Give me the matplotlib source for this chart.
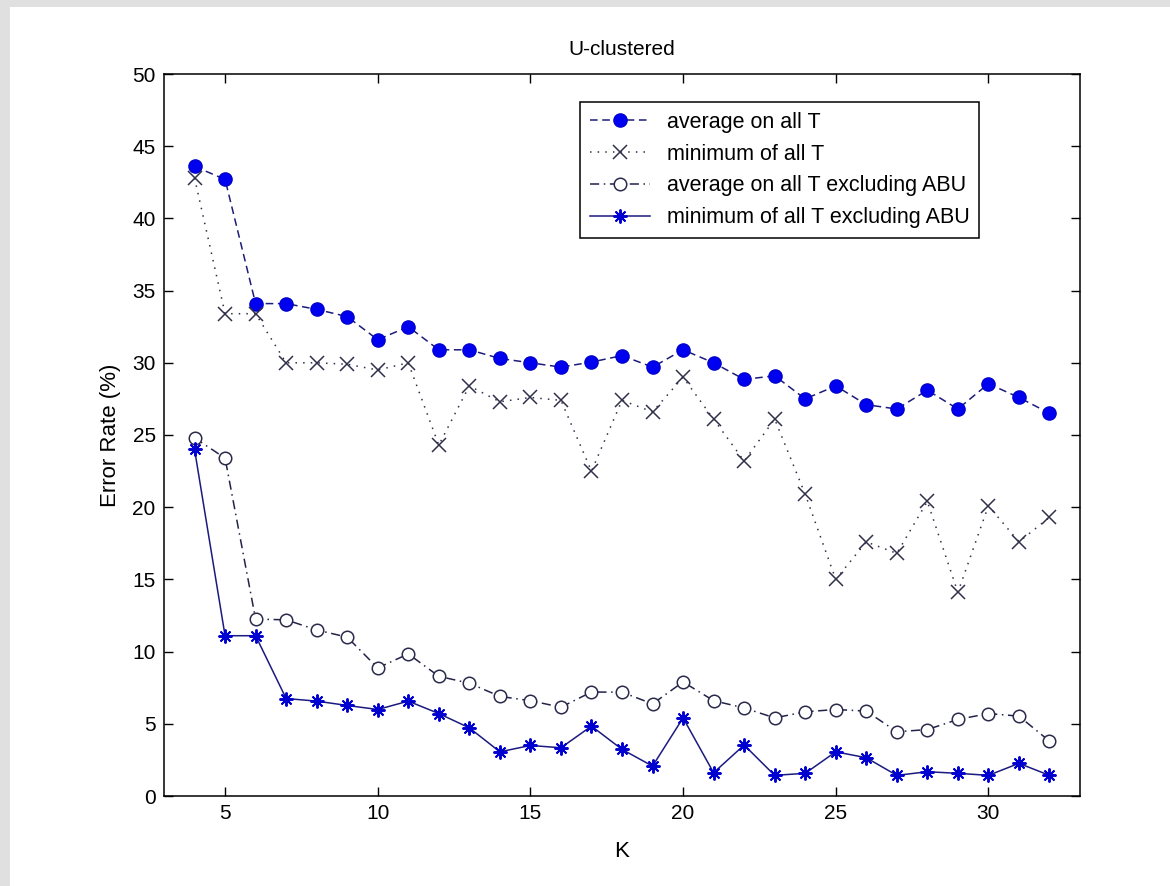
import matplotlib
matplotlib.use('Agg')
import matplotlib.pyplot as plt
from matplotlib.patches import Rectangle

# K values and error rates (%)
K = list(range(4, 33))

avg_all = [43.6, 42.7, 34.1, 34.1, 33.7, 33.2, 31.6, 32.5, 30.9, 30.9, 30.3, 30.0,
           29.7, 30.05, 30.5, 29.7, 30.9, 30.0, 28.85, 29.1, 27.5, 28.4, 27.1, 26.8,
           28.1, 26.8, 28.55, 27.6, 26.5]
min_all = [42.8, 33.4, 33.4, 30.0, 30.0, 29.9, 29.5, 30.0, 24.3, 28.4, 27.3, 27.6,
           27.4, 22.5, 27.4, 26.6, 29.0, 26.1, 23.2, 26.1, 20.9, 15.0, 17.6, 16.8,
           20.4, 14.1, 20.1, 17.6, 19.3]
avg_excl = [24.8, 23.4, 12.25, 12.2, 11.5, 11.0, 8.87, 9.84, 8.29, 7.81, 6.9, 6.6,
            6.15, 7.2, 7.19, 6.38, 7.9, 6.6, 6.1, 5.41, 5.83, 5.99, 5.88, 4.45,
            4.6, 5.3, 5.71, 5.53, 3.8]
min_excl = [24.0, 11.1, 11.1, 6.75, 6.57, 6.27, 5.99, 6.57, 5.71, 4.72, 3.06, 3.5,
            3.34, 4.84, 3.23, 2.07, 5.41, 1.61, 3.53, 1.43, 1.57, 3.06, 2.65, 1.43,
            1.68, 1.57, 1.43, 2.26, 1.43]

labels = ['average on all T', 'minimum of all T',
          'average on all T excluding ABU', 'minimum of all T excluding ABU']

plt.rcParams['font.family'] = ['Liberation Sans', 'DejaVu Sans']

W, H = 1170, 886
fig = plt.figure(figsize=(W / 100, H / 100), dpi=100)
fig.patch.set_facecolor('#e0e0e0')
# white figure panel inside the grey frame
fig.patches.append(Rectangle((10 / W, 0), 1 - 10 / W, 1 - 7 / H, transform=fig.transFigure,
                             facecolor='white', edgecolor='none', zorder=-5))

ax = fig.add_axes([164 / W, 1 - 796 / H, (1080 - 164) / W, (796 - 74) / H])

ax.plot(K, avg_all, linestyle=(0, (5, 3)), color='#1c1c7a', lw=1.1,
        marker='o', ms=9.5, mfc='#0000f0', mec='#0000d0', label=labels[0])
ax.plot(K, min_all, linestyle=(0, (1, 4)), color='#30304a', lw=1.1,
        marker='x', ms=10, mew=1.1, label=labels[1])
ax.plot(K, avg_excl, linestyle=(0, (6, 3, 1, 3)), color='#22224a', lw=1.1,
        marker='o', ms=9, mfc='white', mec='#2a2a4a', mew=1.1, label=labels[2])
ax.plot(K, min_excl, linestyle='-', color='#1a1a80', lw=1.1,
        marker=(8, 2, 0), ms=10, mew=1.4, mec='#0000d0', label=labels[3])

ax.set_xlim(3, 33)
ax.set_ylim(0, 50)
ax.set_xticks(range(5, 31, 5))
ax.set_yticks(range(0, 51, 5))
ax.tick_params(direction='in', top=True, right=True, length=6.5, width=1,
               labelsize=15, pad=6)
for s in ax.spines.values():
    s.set_linewidth(1.1)

ax.set_xlabel('K', fontsize=16, labelpad=13)
ax.set_ylabel('Error Rate (%)', fontsize=16, labelpad=8)
ax.set_title('U-clustered', fontsize=15, pad=14)

leg = ax.legend(loc='upper left', bbox_to_anchor=(0.454, 0.961), fontsize=15.5,
                fancybox=False, framealpha=1, edgecolor='black', handlelength=2.8,
                borderaxespad=0, labelspacing=0.5, handletextpad=0.8,
                borderpad=0.45)
leg.get_frame().set_linewidth(1.1)

fig.savefig('out.png', dpi=100, facecolor=fig.get_facecolor())
